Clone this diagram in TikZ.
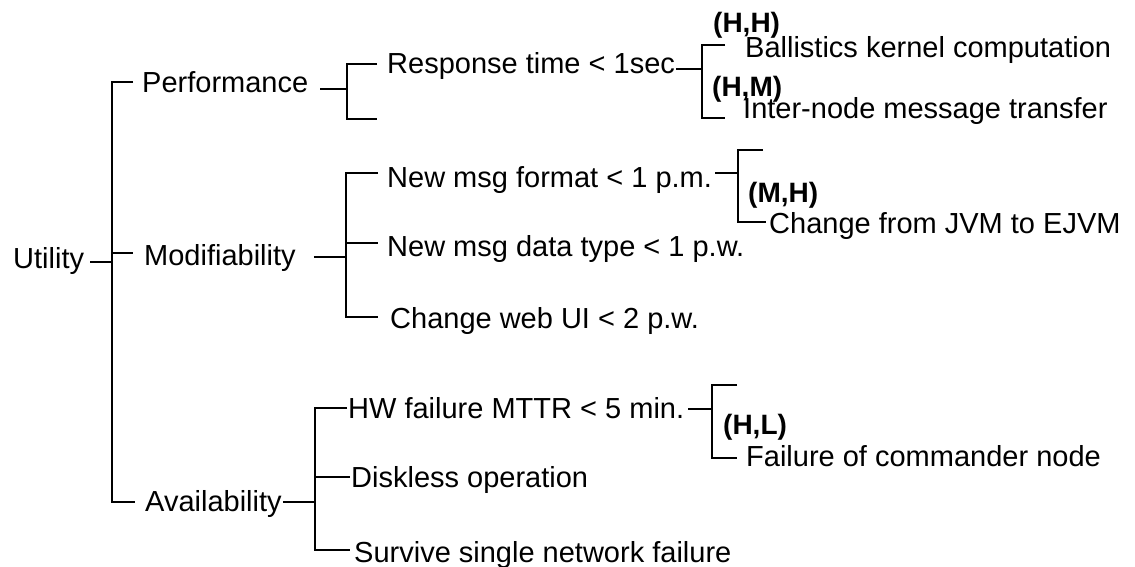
\documentclass[tikz,border=0pt]{standalone}
\usepackage{fontspec}
\setmainfont{Liberation Sans}
\begin{document}
\begin{tikzpicture}[x=1pt,y=-1pt,
  lbl/.style={anchor=base west, inner sep=0pt, font=\fontsize{29}{34}\selectfont},
  rank/.style={anchor=base west, inner sep=0pt, font=\bfseries\fontsize{28}{34}\selectfont},
  wire/.style={line width=1.8pt, line cap=butt, line join=miter}]
\useasboundingbox (0,0) rectangle (1135,567);

% ---------- labels ----------
\node[lbl] (util)  at (13,268)  {Utility};
\node[lbl] (perf)  at (142,93)  {Performance};
\node[lbl] (modif) at (144,265) {Modifiability};
\node[lbl] (avail) at (145,511) {Availability};

\node[lbl] (resp)  at (387,74)  {Response time < 1sec};
\node[rank] (hh)   at (713,33)  {(H,H)};
\node[lbl] (ball)  at (745,58)  {Ballistics kernel computation};
\node[rank] (hm)   at (712,97)  {(H,M)};
\node[lbl] (inter) at (743,119) {Inter-node message transfer};

\node[lbl] (fmt)   at (387,187) {New msg format < 1 p.m.};
\node[rank] (mh)   at (748,202) {(M,H)};
\node[lbl] (jvm)   at (769,233) {Change from JVM to EJVM};
\node[lbl] (dtype) at (387,256) {New msg data type < 1 p.w.};
\node[lbl] (webui) at (390,328) {Change web UI < 2 p.w.};

\node[lbl] (hw)    at (348,418) {HW failure MTTR < 5 min.};
\node[rank] (hl)   at (723,434) {(H,L)};
\node[lbl] (cmdr)  at (746,466) {Failure of commander node};
\node[lbl] (disk)  at (351,487) {Diskless operation};
\node[lbl] (surv)  at (354,562) {Survive single network failure};

% ---------- bracket spines ----------
\coordinate (uTop) at (112,82);   \coordinate (uBot) at (112,502);
\coordinate (pTop) at (347,64);   \coordinate (pBot) at (347,119);
\coordinate (rTop) at (702,45);   \coordinate (rBot) at (702,118);
\coordinate (mTop) at (346,173);  \coordinate (mBot) at (346,317);
\coordinate (fTop) at (738,150);  \coordinate (fBot) at (738,222);
\coordinate (aTop) at (315,408);  \coordinate (aBot) at (315,550);
\coordinate (hTop) at (712,385);  \coordinate (hBot) at (712,458);

% Utility
\draw[wire] ([xshift=6pt]util.east |- 0,262) -- (uTop |- 0,262);
\draw[wire] ([xshift=-9pt]perf.west |- uTop) -- (uTop) -- (uBot) -- ([xshift=-10pt]avail.west |- uBot);
\draw[wire] (uTop |- 0,253) -- (133,253);

% Performance
\draw[wire] ([xshift=12pt]perf.east |- 0,89) -- (pTop |- 0,89);
\draw[wire] (377,64) -- (pTop) -- (pBot) -- (377,119);

% Response time
\draw[wire] ([xshift=1pt]resp.east |- 0,69) -- (rTop |- 0,69);
\draw[wire] (725,45) -- (rTop) -- (rBot) -- (725,118);

% Modifiability
\draw[wire] ([xshift=18pt]modif.east |- 0,257) -- (mTop |- 0,257);
\draw[wire] ([xshift=-9pt]fmt.west |- mTop) -- (mTop) -- (mBot) -- ([xshift=-12pt]webui.west |- mBot);
\draw[wire] (mTop |- 0,243) -- ([xshift=-9pt]dtype.west |- 0,243);

% New msg format
\draw[wire] ([xshift=3pt]fmt.east |- 0,173) -- (fTop |- 0,173);
\draw[wire] (763,150) -- (fTop) -- (fBot) -- ([xshift=-3pt]jvm.west |- fBot);

% Availability
\draw[wire] ([xshift=1pt]avail.east |- uBot) -- (aTop |- uBot);
\draw[wire] ([xshift=-1pt]hw.west |- aTop) -- (aTop) -- (aBot) -- ([xshift=-4pt]surv.west |- aBot);
\draw[wire] (aTop |- 0,477) -- ([xshift=-1pt]disk.west |- 0,477);

% HW failure
\draw[wire] ([xshift=4pt]hw.east |- 0,409) -- (hTop |- 0,409);
\draw[wire] (737,385) -- (hTop) -- (hBot) -- ([xshift=-9pt]cmdr.west |- hBot);
\end{tikzpicture}
\end{document}
